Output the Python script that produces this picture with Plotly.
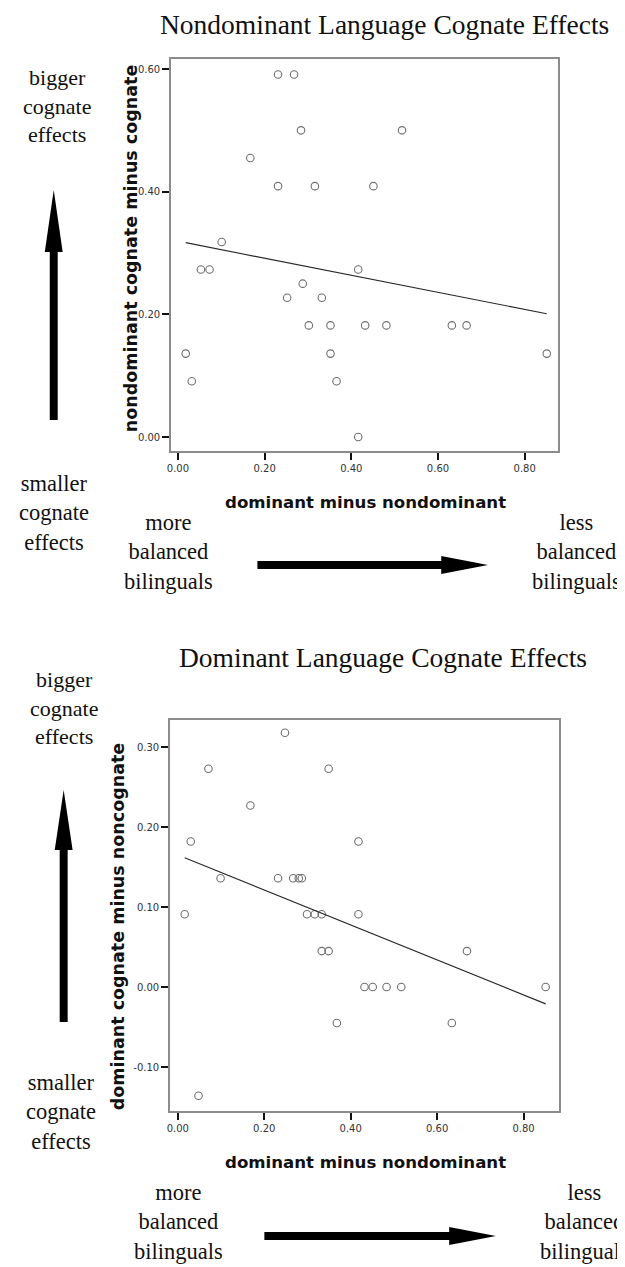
import numpy as np
import plotly.graph_objects as go

W, H = 625, 1267
OFF = 8  # page body margin in the browser

# ---------------- data ----------------
top_x = [0.018, 0.032, 0.053, 0.073, 0.101, 0.167, 0.231, 0.231, 0.268, 0.252,
         0.284, 0.288, 0.302, 0.316, 0.332, 0.352, 0.352, 0.366, 0.416, 0.416,
         0.432, 0.451, 0.481, 0.517, 0.632, 0.666, 0.851]
top_y = [0.136, 0.091, 0.273, 0.273, 0.318, 0.455, 0.591, 0.409, 0.591, 0.227,
         0.500, 0.250, 0.182, 0.409, 0.227, 0.182, 0.136, 0.091, 0.273, 0.000,
         0.182, 0.409, 0.182, 0.500, 0.182, 0.182, 0.136]

bot_x = [0.016, 0.030, 0.048, 0.071, 0.099, 0.168, 0.232, 0.248, 0.267, 0.280,
         0.287, 0.299, 0.317, 0.333, 0.333, 0.349, 0.349, 0.368, 0.418, 0.418,
         0.432, 0.451, 0.483, 0.517, 0.634, 0.669, 0.851]
bot_y = [0.091, 0.182, -0.136, 0.273, 0.136, 0.227, 0.136, 0.318, 0.136, 0.136,
         0.136, 0.091, 0.091, 0.091, 0.045, 0.273, 0.045, -0.045, 0.182, 0.091,
         0.000, 0.000, 0.000, 0.000, -0.045, 0.045, 0.000]

x_tickvals = [0.0, 0.2, 0.4, 0.6, 0.8]
x_ticktext = ["0.00", "0.20", "0.40", "0.60", "0.80"]
top_y_tickvals = [0.0, 0.2, 0.4, 0.6]
top_y_ticktext = ["0.00", "0.20", "0.40", "0.60"]
bot_y_tickvals = [-0.1, 0.0, 0.1, 0.2, 0.3]
bot_y_ticktext = ["-0.10", "0.00", "0.10", "0.20", "0.30"]

top_title = "Nondominant Language Cognate Effects"
bot_title = "Dominant Language Cognate Effects"
x_title = "dominant minus nondominant"
top_y_title = "nondominant cognate minus cognate"
bot_y_title = "dominant cognate minus noncognate"


def px(x, y):
    return (x - OFF) / W, 1 - (y - OFF) / H


fig = go.Figure()

marker = dict(symbol="circle-open", size=7.5, color="#6e6e6e", line=dict(width=1.1, color="#6e6e6e"))

for xs, ys, xa, ya in [(top_x, top_y, "x", "y"), (bot_x, bot_y, "x2", "y2")]:
    fig.add_trace(go.Scatter(x=xs, y=ys, mode="markers", marker=marker,
                             xaxis=xa, yaxis=ya, showlegend=False, hoverinfo="skip"))
    b, a = np.polyfit(xs, ys, 1)
    lx = np.array([min(xs), max(xs)])
    fig.add_trace(go.Scatter(x=lx, y=a + b * lx, mode="lines",
                             line=dict(color="#2a2a2a", width=1.2),
                             xaxis=xa, yaxis=ya, showlegend=False, hoverinfo="skip"))

tickfont = dict(family="DejaVu Sans", size=10, color="#333333")
axis_common = dict(showgrid=False, zeroline=False, showline=True, mirror=True,
                   linecolor="#8c8c8c", linewidth=1.5, ticks="outside",
                   ticklen=7, tickwidth=2, tickcolor="#111111", tickfont=tickfont)

d0x, _ = px(168, 0)
d1x, _ = px(558, 0)
_, d0y = px(0, 451)
_, d1y = px(0, 59)
b0x, _ = px(167, 0)
b1x, _ = px(559, 0)
_, b0y = px(0, 1111)
_, b1y = px(0, 720)

fig.update_layout(
    width=W, height=H,
    margin=dict(l=0, r=0, t=0, b=0, pad=0),
    paper_bgcolor="white", plot_bgcolor="white",
    xaxis=dict(domain=[d0x, d1x], range=[-0.016, 0.878], anchor="y",
               tickvals=x_tickvals, ticktext=x_ticktext, **axis_common),
    yaxis=dict(domain=[d0y, d1y], range=[-0.0228, 0.6163], anchor="x",
               tickvals=top_y_tickvals, ticktext=top_y_ticktext, **axis_common),
    xaxis2=dict(domain=[b0x, b1x], range=[-0.018, 0.883], anchor="y2",
                tickvals=x_tickvals, ticktext=x_ticktext, **axis_common),
    yaxis2=dict(domain=[b0y, b1y], range=[-0.155, 0.334], anchor="x2",
                tickvals=bot_y_tickvals, ticktext=bot_y_ticktext, **axis_common),
)

serif = "Liberation Serif"
anns = []


def add_text(text, x, y, size, family=serif, bold=False, angle=0, xanchor="center"):
    xp, yp = px(x, y)
    if bold:
        text = "<b>" + text + "</b>"
    anns.append(dict(text=text, x=xp, y=yp, xref="paper", yref="paper",
                     xanchor=xanchor, yanchor="middle", showarrow=False,
                     textangle=angle, font=dict(family=family, size=size, color="#111111")))


# titles
add_text(top_title, 383, 25, 27.5)
add_text(bot_title, 381, 657, 27.5)
# side texts, top chart
add_text("bigger<br>cognate<br>effects", 53, 106, 22)
add_text("smaller<br>cognate<br>effects", 50, 513, 22.5)
add_text("more<br>balanced<br>bilinguals", 166, 552, 22.5)
add_text("less<br>balanced<br>bilinguals", 576, 552, 22.5)
# side texts, bottom chart
add_text("bigger<br>cognate<br>effects", 60, 708, 22)
add_text("smaller<br>cognate<br>effects", 57, 1112, 22.5)
add_text("more<br>balanced<br>bilinguals", 176, 1222, 22.5)
add_text("less<br>balanced<br>bilinguals", 584, 1222, 22.5)
# axis titles
add_text(x_title, 364, 502, 16.6, family="DejaVu Sans", bold=True)
add_text(x_title, 364, 1162, 16.6, family="DejaVu Sans", bold=True)
add_text(top_y_title, 128, 248, 17.5, family="DejaVu Sans", bold=True, angle=-90)
add_text(bot_y_title, 115, 926, 17.5, family="DejaVu Sans", bold=True, angle=-90)

fig.update_layout(annotations=anns)


def poly_path(points):
    pts = [px(x, y) for x, y in points]
    return "M " + " L ".join(f"{a:.5f},{b:.5f}" for a, b in pts) + " Z"


def up_arrow(cx, tip, base, bottom, shw=4, hhw=9):
    return poly_path([(cx - shw, bottom), (cx - shw, base), (cx - hhw, base), (cx, tip),
                      (cx + hhw, base), (cx + shw, base), (cx + shw, bottom)])


def right_arrow(cy, left, base, tip, shw=4, hhw=9):
    return poly_path([(left, cy - shw), (base, cy - shw), (base, cy - hhw), (tip, cy),
                      (base, cy + hhw), (base, cy + shw), (left, cy + shw)])


shapes = []
for path in [up_arrow(50, 190, 252, 420), up_arrow(60, 790, 850, 1022),
             right_arrow(565, 255, 440, 487), right_arrow(1236, 262, 448, 495)]:
    shapes.append(dict(type="path", path=path, xref="paper", yref="paper",
                       fillcolor="#000000", line=dict(width=0)))
fig.update_layout(shapes=shapes)

fig.write_html("out.html")
